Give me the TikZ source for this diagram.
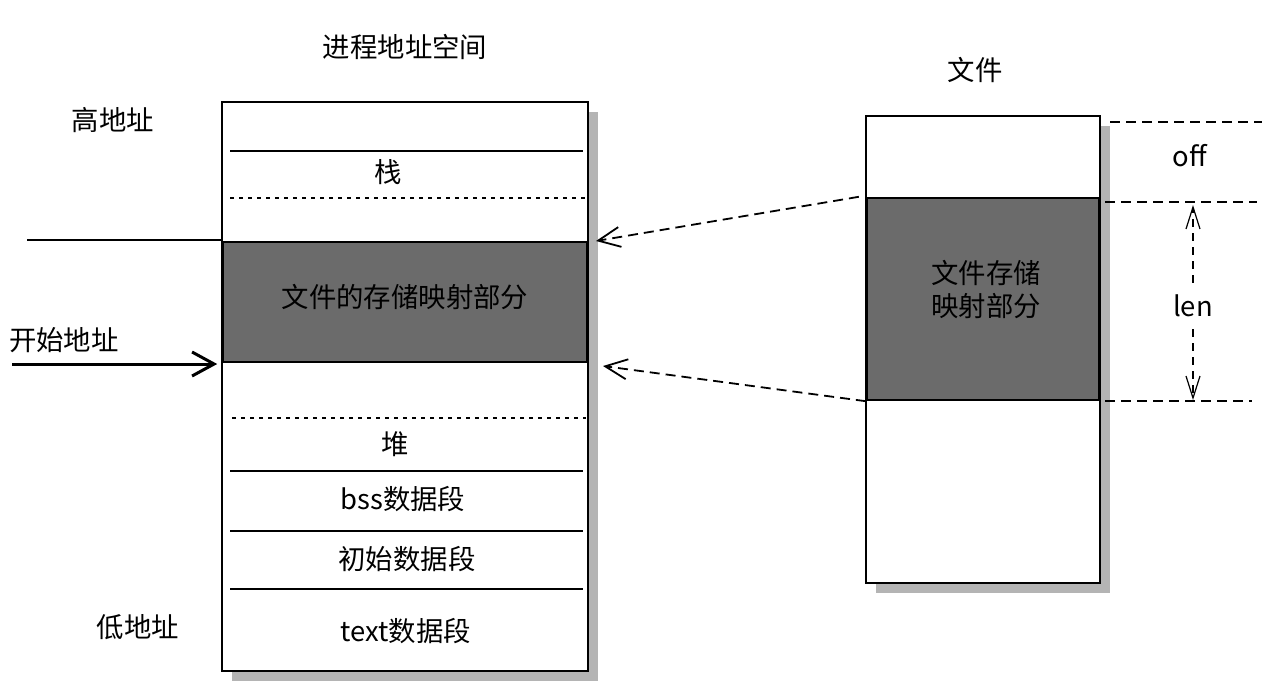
\documentclass[tikz,border=0pt]{standalone}
\usepackage{fontspec}
\setmainfont{Noto Sans CJK SC}
\usetikzlibrary{positioning}
\usetikzlibrary{arrows.meta}
\usetikzlibrary{shadows}
\definecolor{mapgray}{HTML}{6B6B6B}
\definecolor{shadowgray}{HTML}{B4B4B4}
\tikzset{
	membox/.style={draw, line width=0.8pt, fill=white, inner sep=0pt,
		drop shadow={shadow xshift=5pt, shadow yshift=-5pt, opacity=1, fill=shadowgray}},
	mapbox/.style={draw, line width=1.2pt, fill=mapgray, inner sep=0pt},
	segline/.style={line width=0.7pt},
	segdash/.style={line width=0.6pt, dash pattern=on 2pt off 2.5pt},
	guide/.style={line width=0.7pt, dash pattern=on 5pt off 3pt},
	maparrow/.style={line width=0.9pt, dash pattern=on 5pt off 3pt, -{Straight Barb[length=11pt, width=10pt]}},
	dimarrow/.style={line width=0.6pt, dash pattern=on 4pt off 3pt, -{Straight Barb[length=11pt, width=7pt]}},
	startarrow/.style={line width=1.5pt, -{Straight Barb[length=11pt, width=12pt]}}
}
\begin{document}
\begin{tikzpicture}[x=0.5pt, y=-0.5pt, every node/.style={font=\fontsize{13.7}{16.5}\selectfont}]
	\useasboundingbox (0,0) rectangle (1280,687);
	% process address space
	\node at (405,386.5) [membox, minimum width=183pt, minimum height=284.5pt] (proc) {};
	\node at (405,302) [mapbox, minimum width=182pt, minimum height=60pt] (map) {};
	\foreach \y in {151,471,531,589} {
		\draw [segline] (230,\y) -- (583,\y);
	}
	\draw [segdash] (230,198) -- (585,198);
	\draw [segdash] (232,418) -- (586,418);
	\node at (405,47) (proctitle) {进程地址空间};
	\node at (388,172) (stack) {栈};
	\node at (405,297) (maptext) {文件的存储映射部分};
	\node at (395,444) (heap) {堆};
	\node at (403,499) (bss) {bss数据段};
	\node at (407,559) (data) {初始数据段};
	\node at (406,631) (text) {text数据段};
	\node at (113,120) (high) {高地址};
	\node at (138,627) (low) {低地址};
	\node at (2,340) [anchor=west] (start) {开始地址};
	\coordinate (hiend) at (27,240);
	\coordinate (startend) at (12,364);
	\draw [segline] (hiend) -- (proc.west |- 0,240);
	\draw [startarrow] (startend) -- ([xshift=-2pt]proc.west |- 0,364);
	% file
	\node at (983,349.5) [membox, minimum width=117pt, minimum height=233.5pt] (file) {};
	\node at (983,299) [mapbox, minimum width=116pt, minimum height=101pt] (fmap) {};
	\node at (975,70) (filetitle) {文件};
	\node at (986,290) [align=center] (fmaptext) {文件存储\\映射部分};
	\draw [guide] (1110,122) -- (1262,122);
	\draw [guide] (1105,202) -- (1257,202);
	\draw [guide] (1105,401) -- (1252,401);
	\node at (1190,156) (off) {off};
	\node at (1193,306) [inner sep=6pt] (len) {len};
	\draw [dimarrow] (len.north) -- (1193,205);
	\draw [dimarrow] (len.south) -- (1193,400);
	% mapping
	\coordinate (maptop) at (596,241);
	\coordinate (mapbot) at (603,366);
	\draw [maparrow] ([xshift=-3.5pt]fmap.north west) -- (maptop);
	\draw [maparrow] (fmap.south west) -- (mapbot);
\end{tikzpicture}
\end{document}
